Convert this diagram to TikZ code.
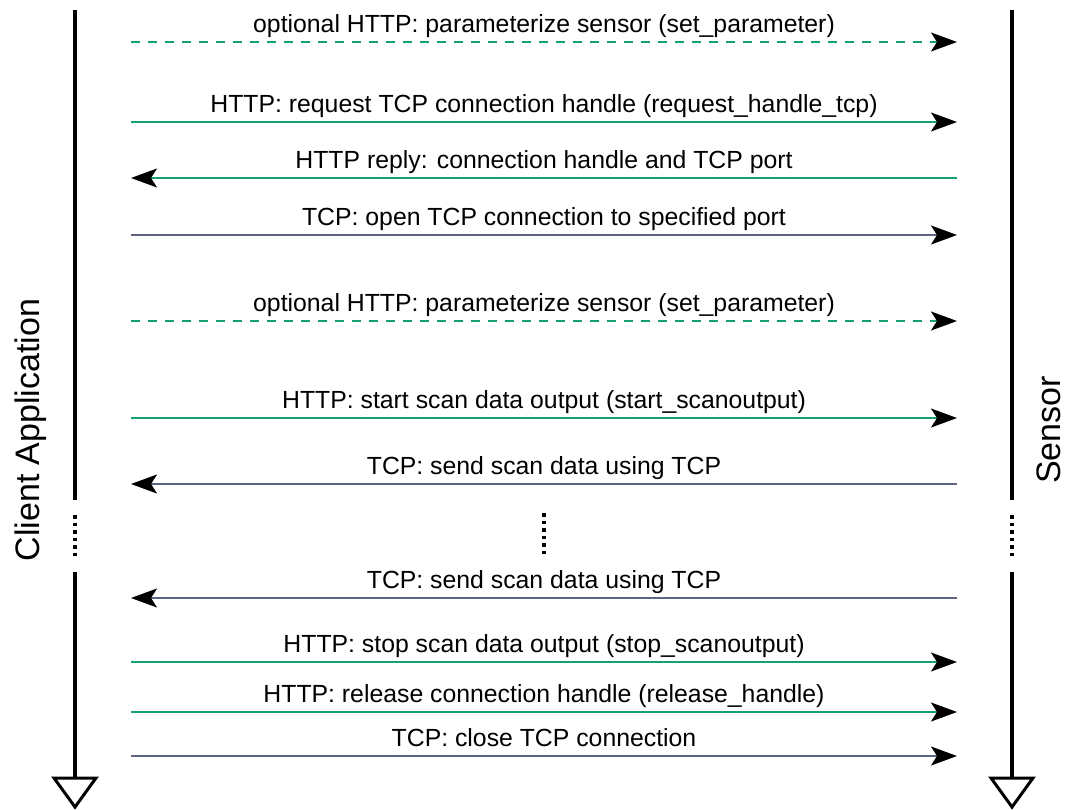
\documentclass[tikz,border=0pt]{standalone}
\usepackage{fontspec}
\setmainfont{Liberation Sans}
\usetikzlibrary{arrows.meta,calc}
\definecolor{httpc}{HTML}{14A070}
\definecolor{tcpc}{HTML}{5E6482}
\begin{document}
\begin{tikzpicture}[x=1pt,y=-1pt,
  msg/.style={line width=2pt,-{Stealth[length=26pt,width=19pt,inset=6pt,color=black]}},
  http/.style={msg,draw=httpc},
  opt/.style={http,dash pattern=on 9pt off 8pt},
  tcp/.style={msg,draw=tcpc},
  lbl/.style={font=\fontsize{24.8}{30}\selectfont, inner sep=0pt, anchor=base, text=black},
  side/.style={rotate=90,font=\fontsize{34}{40}\selectfont, inner sep=0pt},
  life/.style={line width=4pt,draw=black},
  dots/.style={line width=4pt,draw=black,dash pattern=on 3.5pt off 4pt},
  tri/.style={line width=3pt,draw=black,line join=miter}
]
\path[use as bounding box] (0,0) rectangle (1067,809);

% lifelines
\coordinate (cTop) at (75,10);
\coordinate (cA) at (75,500);
\coordinate (cDa) at (75,515);
\coordinate (cDb) at (75,557);
\coordinate (cB) at (75,572);
\coordinate (cEnd) at (75,778);
\coordinate (sTop) at (1012,10);
\coordinate (sA) at (1012,500);
\coordinate (sDa) at (1012,515);
\coordinate (sDb) at (1012,557);
\coordinate (sB) at (1012,572);
\coordinate (sEnd) at (1012,778);
\coordinate (mDa) at (544,513);
\coordinate (mDb) at (544,555);

\draw[life] (cTop) -- (cA);
\draw[dots] (cDa) -- (cDb);
\draw[life] (cB) -- (cEnd);
\draw[tri] ($(cEnd)+(-21,0)$) -- ($(cEnd)+(21,0)$) -- ($(cEnd)+(0,29)$) -- cycle;
\draw[life] (sTop) -- (sA);
\draw[dots] (sDa) -- (sDb);
\draw[life] (sB) -- (sEnd);
\draw[tri] ($(sEnd)+(-21,0)$) -- ($(sEnd)+(21,0)$) -- ($(sEnd)+(0,29)$) -- cycle;
\draw[dots] (mDa) -- (mDb);

\node[side] (client) at (31,430) {Client Application};
\node[side] (sensor) at (1049,430) {Sensor};

% message end points
\foreach \i/\y in {1/42,2/122,3/178,4/235,5/321,6/418,7/484,8/598,9/662,10/712,11/756}{
  \coordinate (l\i) at (131,\y);
  \coordinate (r\i) at (957,\y);
}

\draw[opt] (l1) -- (r1) node[midway,lbl,yshift=10pt] {optional HTTP: parameterize sensor (set\_parameter)};
\draw[http] (l2) -- (r2) node[midway,lbl,yshift=10pt] {HTTP: request TCP connection handle (request\_handle\_tcp)};
\draw[http] (r3) -- (l3) node[midway,lbl,yshift=10pt] {HTTP reply: connection handle and TCP port};
\draw[tcp] (l4) -- (r4) node[midway,lbl,yshift=10pt] {TCP: open TCP connection to specified port};
\draw[opt] (l5) -- (r5) node[midway,lbl,yshift=10pt] {optional HTTP: parameterize sensor (set\_parameter)};
\draw[http] (l6) -- (r6) node[midway,lbl,yshift=10pt] {HTTP: start scan data output (start\_scanoutput)};
\draw[tcp] (r7) -- (l7) node[midway,lbl,yshift=10pt] {TCP: send scan data using TCP};
\draw[tcp] (r8) -- (l8) node[midway,lbl,yshift=10pt] {TCP: send scan data using TCP};
\draw[http] (l9) -- (r9) node[midway,lbl,yshift=10pt] {HTTP: stop scan data output (stop\_scanoutput)};
\draw[http] (l10) -- (r10) node[midway,lbl,yshift=10pt] {HTTP: release connection handle (release\_handle)};
\draw[tcp] (l11) -- (r11) node[midway,lbl,yshift=10pt] {TCP: close TCP connection};
\end{tikzpicture}
\end{document}
